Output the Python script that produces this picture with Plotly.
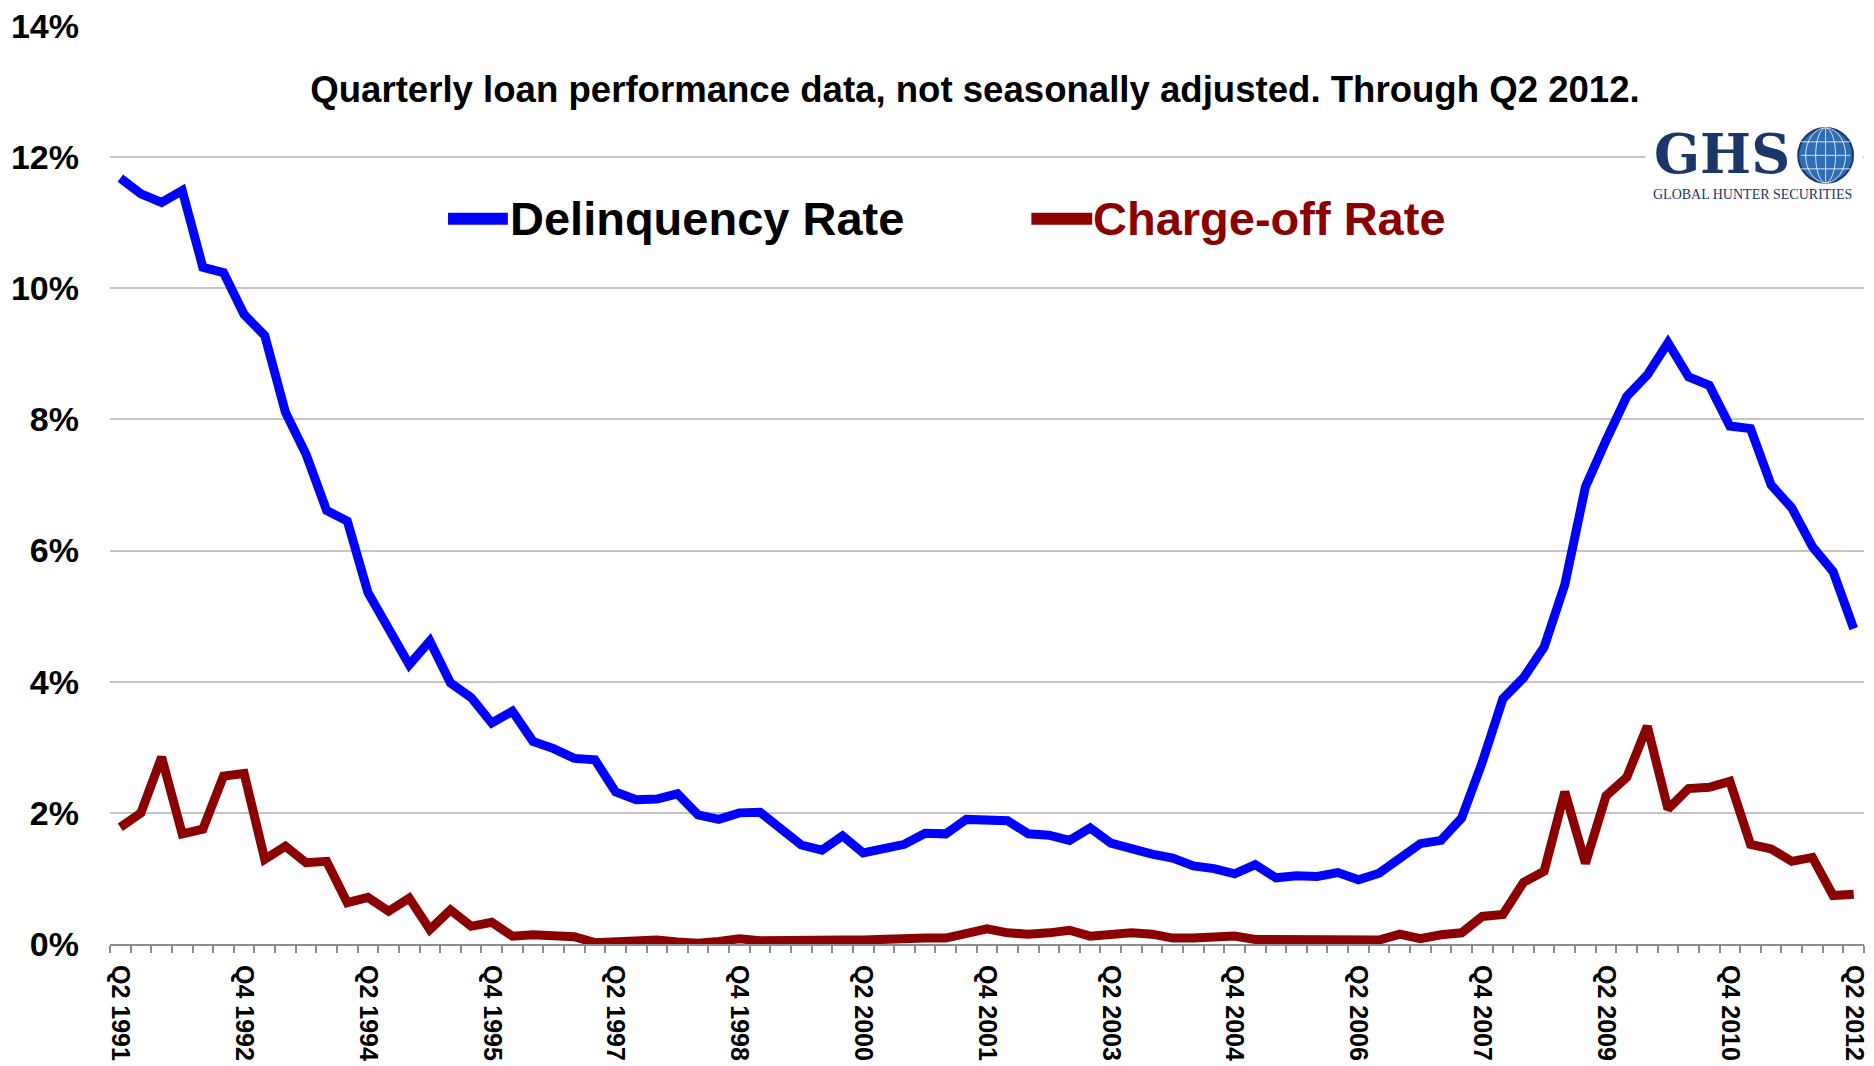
import plotly.graph_objects as go

# Quarterly series, Q2 1991 through Q2 2012 (percent)
delinquency_rate = [
    11.68, 11.44, 11.31, 11.49, 10.32, 10.24, 9.60, 9.28, 8.11, 7.47,
    6.61, 6.45, 5.36, 4.82, 4.26, 4.62, 3.98, 3.76, 3.37, 3.55,
    3.09, 2.98, 2.83, 2.81, 2.32, 2.20, 2.21, 2.29, 1.97, 1.90,
    2.00, 2.01, 1.76, 1.51, 1.43, 1.65, 1.39, 1.45, 1.52, 1.69,
    1.68, 1.90, 1.89, 1.88, 1.68, 1.66, 1.58, 1.77, 1.54, 1.45,
    1.37, 1.31, 1.19, 1.15, 1.07, 1.21, 1.01, 1.04, 1.03, 1.09,
    0.98, 1.08, 1.30, 1.53, 1.58, 1.92, 2.77, 3.74, 4.06, 4.53,
    5.48, 6.97, 7.68, 8.35, 8.68, 9.17, 8.65, 8.52, 7.90, 7.86,
    7.00, 6.65, 6.06, 5.68, 4.81,
]

charge_off_rate = [
    1.78, 2.00, 2.85, 1.68, 1.75, 2.56, 2.60, 1.29, 1.49, 1.24,
    1.26, 0.63, 0.71, 0.50, 0.70, 0.22, 0.52, 0.27, 0.33, 0.12,
    0.14, 0.12, 0.11, 0.02, 0.03, 0.04, 0.06, 0.03, 0.01, 0.04,
    0.08, 0.05, 0.06, 0.07, 0.08, 0.06, 0.06, 0.08, 0.10, 0.09,
    0.09, 0.15, 0.23, 0.17, 0.15, 0.17, 0.21, 0.12, 0.15, 0.17,
    0.15, 0.09, 0.09, 0.09, 0.12, 0.07, 0.07, 0.07, 0.07, 0.05,
    0.06, 0.06, 0.15, 0.08, 0.14, 0.17, 0.42, 0.45, 0.94, 1.11,
    2.32, 1.23, 2.26, 2.54, 3.32, 2.06, 2.37, 2.39, 2.48, 1.52,
    1.45, 1.26, 1.32, 0.74, 0.76,
]

# Category labels: one per quarter
first_year, first_q = 1991, 2
quarters = []
y, q = first_year, first_q
for _ in range(len(delinquency_rate)):
    quarters.append(f"Q{q} {y}")
    q += 1
    if q > 4:
        q, y = 1, y + 1

tick_labels = [
    "Q2 1991", "Q4 1992", "Q2 1994", "Q4 1995", "Q2 1997", "Q4 1998",
    "Q2 2000", "Q4 2001", "Q2 2003", "Q4 2004", "Q2 2006", "Q4 2007",
    "Q2 2009", "Q4 2010", "Q2 2012",
]
tick_positions = [quarters.index(t) for t in tick_labels]
y_ticks = [0, 2, 4, 6, 8, 10, 12, 14]

BLUE = "#0000FF"
DARK_RED = "#8B0000"
NAVY = "#1B3668"
FONT = "Liberation Sans, Arial, sans-serif"
SERIF = "Liberation Serif, Times New Roman, serif"
WIDE_SERIF = "DejaVu Serif, Liberation Serif, serif"

W, H = 1874, 1066
ML, MR, MT, MB = 110, 5, 26, 121
PW, PH = W - ML - MR, H - MT - MB


def px(xp):
    return (xp - ML) / PW


def py(yp):
    return (H - MB - yp) / PH


x_idx = list(range(len(quarters)))

fig = go.Figure()
fig.add_trace(go.Scatter(
    x=x_idx, y=delinquency_rate, mode="lines", name="Delinquency Rate",
    line=dict(color=BLUE, width=9), text=quarters,
    hovertemplate="%{text}: %{y:.2f}%<extra>Delinquency Rate</extra>",
))
fig.add_trace(go.Scatter(
    x=x_idx, y=charge_off_rate, mode="lines", name="Charge-off Rate",
    line=dict(color=DARK_RED, width=9), text=quarters,
    hovertemplate="%{text}: %{y:.2f}%<extra>Charge-off Rate</extra>",
))

shapes = []
annotations = []

# Legend drawn as swatch + label pairs
for name, color, sx0, sx1, tx, tcolor in [
    ("Delinquency Rate", BLUE, 449, 509, 509, "black"),
    ("Charge-off Rate", DARK_RED, 1034, 1095, 1094, DARK_RED),
]:
    shapes.append(dict(type="line", xref="paper", yref="paper",
                       x0=px(sx0), x1=px(sx1), y0=py(219), y1=py(219),
                       line=dict(color=color, width=12)))
    annotations.append(dict(xref="paper", yref="paper", x=px(tx), y=py(219),
                            xanchor="left", yanchor="middle", showarrow=False,
                            text=f"<b>{name}</b>",
                            font=dict(family=FONT, size=47, color=tcolor)))

# GHS logo block
shapes.append(dict(type="rect", xref="paper", yref="paper",
                   x0=px(1650), x1=px(1868), y0=py(202), y1=py(122),
                   fillcolor="white", line=dict(width=0)))
shapes.append(dict(type="circle", xref="paper", yref="paper",
                   x0=px(1803), x1=px(1858), y0=py(183), y1=py(128),
                   fillcolor="#2F6DB5", line=dict(color=NAVY, width=2)))
for dx in (10, 20):
    shapes.append(dict(type="circle", xref="paper", yref="paper",
                       x0=px(1830.5 - dx), x1=px(1830.5 + dx), y0=py(183), y1=py(128),
                       line=dict(color="rgba(255,255,255,0.8)", width=1)))
for yy in (142, 155.5, 169):
    shapes.append(dict(type="line", xref="paper", yref="paper",
                       x0=px(1806), x1=px(1855), y0=py(yy), y1=py(yy),
                       line=dict(color="rgba(255,255,255,0.8)", width=1)))
shapes.append(dict(type="line", xref="paper", yref="paper",
                   x0=px(1830.5), x1=px(1830.5), y0=py(129), y1=py(182),
                   line=dict(color="rgba(255,255,255,0.8)", width=1)))
annotations.append(dict(xref="paper", yref="paper", x=px(1656), y=py(154),
                        xanchor="left", yanchor="middle", showarrow=False,
                        text="<b>GHS</b>",
                        font=dict(family=WIDE_SERIF, size=54, color=NAVY)))
annotations.append(dict(xref="paper", yref="paper", x=px(1757), y=py(195),
                        xanchor="center", yanchor="middle", showarrow=False,
                        text="GLOBAL HUNTER SECURITIES",
                        font=dict(family=SERIF, size=14, color=NAVY)))

fig.update_layout(
    width=W, height=H,
    margin=dict(l=ML, r=MR, t=MT, b=MB),
    paper_bgcolor="white", plot_bgcolor="white",
    showlegend=False,
    title=dict(
        text="<b>Quarterly loan performance data, not seasonally adjusted. Through Q2 2012.</b>",
        x=975 / W, xanchor="center", y=1 - 89 / H, yanchor="middle",
        font=dict(family=FONT, size=36.6, color="black"),
    ),
    xaxis=dict(
        range=[-0.5, len(quarters) - 0.5],
        tickmode="array", tickvals=tick_positions, ticktext=tick_labels,
        tickangle=90, ticks="", showgrid=False, zeroline=False,
        showline=True, linecolor="#8C8C8C", linewidth=2,
        ticklabelstandoff=14,
        tickfont=dict(family=FONT, size=25, color="black", weight="bold"),
        minor=dict(tickmode="linear", tick0=-0.5, dtick=1, ticks="outside",
                   ticklen=7, tickwidth=2, tickcolor="#8C8C8C", showgrid=False),
        layer="below traces",
        fixedrange=True,
    ),
    yaxis=dict(
        range=[0, 14], tickmode="array", tickvals=y_ticks,
        ticktext=[f"{v}%" for v in y_ticks],
        showgrid=True, gridcolor="#C4C4C4", gridwidth=2,
        zeroline=False, showline=False, ticks="",
        ticklabelstandoff=30,
        tickfont=dict(family=FONT, size=34, color="black", weight="bold"),
        layer="below traces",
        fixedrange=True,
    ),
    shapes=shapes,
    annotations=annotations,
)

fig.write_html("out.html")
